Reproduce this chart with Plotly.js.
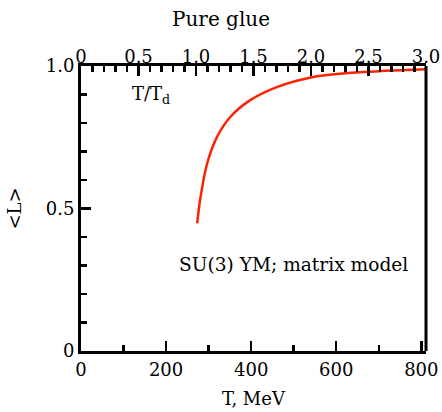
<!DOCTYPE html>
<html>
<head>
<meta charset="utf-8">
<script src="https://cdn.plot.ly/plotly-3.0.1.min.js"></script>
<style>html,body{margin:0;padding:0;background:#fff}#chart{width:442px;height:412px}</style>
</head>
<body>
<div id="chart"></div>
<script>
// T/Td values and Polyakov loop <L>
var tOverTd = [1.01, 1.04, 1.097, 1.184, 1.30, 1.475, 1.708, 2.0, 2.35, 2.64, 3.0];
var loopL   = [0.448, 0.541, 0.658, 0.752, 0.822, 0.881, 0.927, 0.960, 0.976, 0.983, 0.989];
var Td = 270; // MeV

var bottomTickVals = [0, 200, 400, 600, 800];
var bottomTickText = ["0", "200", "400", "600", "800"];
var topTickVals = [0, 0.5, 1.0, 1.5, 2.0, 2.5, 3.0];
var topTickText = ["0", "0.5", "1.0", "1.5", "2.0", "2.5", "3.0"];
var yTickVals = [0, 0.5, 1.0];
var yTickText = ["0", "0.5", "1.0"];

var FAM = "DejaVu Serif, serif";
var font = {family: FAM, size: 18, color: "#000"};

var traceTop = {
  x: tOverTd, y: loopL, xaxis: "x2", yaxis: "y",
  type: "scatter", mode: "lines", line: {color: "#ff2200", width: 2.5, shape: "spline"},
  hoverinfo: "skip"
};
// same curve on the MeV axis (invisible, only so the bottom axis is drawn)
var traceBottom = {
  x: tOverTd.map(function (t) { return t * Td; }), y: loopL, xaxis: "x", yaxis: "y",
  type: "scatter", mode: "lines", line: {color: "rgba(0,0,0,0)", width: 0},
  hoverinfo: "skip"
};

var tickCommon = {
  showgrid: false, zeroline: false,
  showline: true, linecolor: "#000", linewidth: 3,
  ticks: "inside", ticklen: 10, tickwidth: 2.5, tickcolor: "#000",
  tickfont: font
};

var layout = {
  width: 442, height: 412,
  margin: {l: 81, r: 16, t: 66, b: 61},
  paper_bgcolor: "#fff", plot_bgcolor: "#fff",
  showlegend: false,
  font: font,
  title: {text: "Pure glue", font: {family: FAM, size: 20, color: "#000"}, x: 0.5, xanchor: "center", y: 0.955, yanchor: "middle"},
  xaxis: Object.assign({}, tickCommon, {
    range: [0, 811],
    tickvals: bottomTickVals, ticktext: bottomTickText,
    minor: {dtick: 100, tick0: 0, ticks: "inside", ticklen: 6, tickwidth: 2.5, tickcolor: "#000"},
    title: {text: "T, MeV", font: font, standoff: 14}
  }),
  xaxis2: Object.assign({}, tickCommon, {
    range: [0, 3.0], overlaying: "x", side: "top", anchor: "y",
    tickvals: topTickVals, ticktext: topTickText,
    ticklabelstandoff: -7,
    minor: {dtick: 0.1, tick0: 0, ticks: "inside", ticklen: 6, tickwidth: 2.5, tickcolor: "#000"}
  }),
  yaxis: Object.assign({}, tickCommon, {
    range: [0, 1.0],
    tickvals: yTickVals, ticktext: yTickText,
    minor: {dtick: 0.1, tick0: 0, ticks: "inside", ticklen: 6, tickwidth: 2.5, tickcolor: "#000"},
    title: {text: "&lt;L&gt;", font: font, standoff: 20}
  }),
  shapes: [
    {type: "line", xref: "paper", yref: "paper", x0: 1, x1: 1, y0: 0, y1: 1, line: {color: "#000", width: 3}}
  ],
  annotations: [
    {text: "T/T<sub>d</sub>", xref: "x2", yref: "y", x: 0.43, y: 0.9, xanchor: "left", yanchor: "middle", showarrow: false, font: font},
    {text: "SU(3) YM; matrix model", xref: "x2", yref: "y", x: 0.835, y: 0.305, xanchor: "left", yanchor: "middle", showarrow: false, font: {family: FAM, size: 18.6, color: "#000"}}
  ]
};

Plotly.newPlot("chart", [traceBottom, traceTop], layout, {displayModeBar: false, staticPlot: true});
</script>
</body>
</html>
